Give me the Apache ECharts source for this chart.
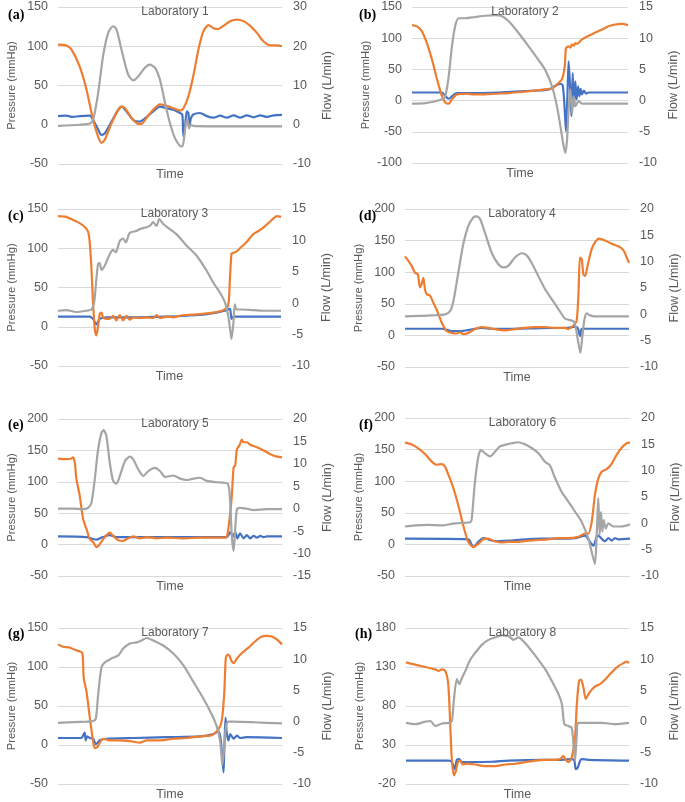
<!DOCTYPE html>
<html>
<head>
<meta charset="utf-8">
<script src="https://cdn.jsdelivr.net/npm/echarts@6/dist/echarts.min.js"></script>
<style>html,body{margin:0;padding:0;background:#fff;}#c{width:685px;height:802px;}</style>
</head>
<body>
<div id="c"></div>
<script>
// Time is normalised to 0..100 over the cardiac cycle shown in each panel.
// Orange = aortic pressure (mmHg), blue = atrial pressure (mmHg), gray = flow (L/min).
const lab1Orange = [[0,102],[3.7,101],[6,96],[9.7,74],[12.7,45],[15.7,6],[17.9,-15],[19.4,-23],[20.9,-19],[23.9,2],[26.9,19],[28.4,23],[29.9,21],[32.8,9],[35.8,1],[37.3,1],[39.6,9],[42.5,19],[45.5,26],[48.5,24],[51.5,21],[54.5,18],[56,21],[58.2,36],[60.4,62],[62.7,96],[64.9,119],[67.2,127],[69.4,123],[71.6,122],[73.9,126],[76.9,132],[79.9,134],[82.8,132],[85.8,126],[88.8,117],[91.8,106],[94.8,101],[97.8,101],[100,100]];
const lab1Blue = [[0,11],[3.7,11.5],[6.7,10],[9.7,11],[14.2,11.5],[15.7,6],[17.9,-6],[19.4,-13],[20.9,-11],[23.9,4],[26.9,19],[28.4,23],[30.6,17],[33.6,6],[36.6,4],[39.6,10],[42.5,17],[45.5,23],[48.5,21],[51.5,19],[54.5,15],[55.5,13],[56,-15],[56.7,-2],[57.5,17],[58.2,15],[58.7,-2],[59.3,8],[60.4,13],[63.4,15],[66.4,11],[69.4,9],[72.4,11.5],[75.4,9],[78.4,12],[81.3,9],[84.3,12],[87.3,9.5],[90.3,12],[93.3,10],[96.3,12],[100,12.5]];
const lab1Flow = [[0,-0.3],[9.7,0],[14.2,0.3],[15.7,1.3],[17.9,8],[20.1,17.4],[22.4,23.4],[24.6,25.1],[26.1,24.3],[28.4,19],[31.3,12.8],[33.6,11.3],[35.8,12.3],[38.8,14.5],[41,15.3],[43.3,14.5],[45.5,11.5],[47.8,5.5],[50,0.4],[52.2,-3.4],[54.5,-5.4],[55.5,-5.5],[56.3,-3.4],[57,0],[57.8,1.3],[58.5,-0.9],[59.3,0],[60.4,-0.3],[66.4,-0.4],[100,-0.4]];

const lab2Orange = [[0,121],[2.3,119],[4.6,111],[6.9,92],[9.3,65],[11.6,34],[13.9,7],[15.4,-3],[17,-5],[18.5,2],[20.8,10],[24.7,11],[29.3,10],[34,10],[38.6,11],[44.8,12],[50.9,14],[57.1,16],[61.7,18],[64.8,19],[67.1,26],[69.4,34],[70.7,55],[71.3,84],[72.5,87],[73.3,85],[74.1,90],[74.9,88],[75.6,92],[76.5,91],[78.7,98],[81.8,104],[84.9,109],[88,114],[91,119],[94.1,122],[97.2,123],[100,121]];
const lab2Blue = [[0,13],[13.9,13],[15.4,7],[17,3],[18.5,7],[20.8,12],[24.7,12],[40,13],[57.1,16],[63.3,18],[66.4,24],[68.7,27],[69.8,24],[70.7,-14],[71.3,-49],[71.9,2],[72.5,63],[73.1,28],[73.8,-25],[74.4,44],[75,-9],[75.6,31],[76.2,2],[76.9,23],[77.5,7],[78.1,19],[78.7,10],[79.6,16],[80.6,11],[81.8,13],[100,13]];
const lab2Flow = [[0,-0.5],[6.2,-0.4],[10.8,-0.1],[13.9,0.2],[15.4,0.7],[17,3.9],[18.5,8.7],[20.1,12.1],[21.6,13.2],[24.7,13.2],[29.3,13.4],[34,13.6],[38.6,13.7],[41.7,13.5],[44.8,12.7],[49.4,10.8],[54,8.7],[58.6,6.5],[61.7,4.9],[64.8,2.3],[67.1,-0.9],[68.7,-4.1],[70.2,-7.3],[71,-8.4],[71.8,-6.2],[72.5,-1.4],[73.3,1.8],[74.1,-2],[74.8,0.7],[75.6,-0.9],[77.2,-0.1],[78.7,-0.5],[100,-0.5]];

const lab3Orange = [[0,141],[3.7,140],[6.7,136],[9.7,132],[12,127],[13.5,121],[14.2,108],[15,74],[15.7,31],[16.5,-3],[17.2,-11],[18,1],[18.7,16],[19.5,18],[20.2,12],[21.7,10],[23.2,10],[24.7,14],[26.2,8],[27.7,15],[29.2,8],[30.7,14],[32.2,9],[33.7,12],[36.7,11],[39.7,12],[42.7,11],[44.2,15],[45.7,11],[48.7,13],[51.6,12],[54.6,14],[57.6,15],[63.6,16],[69.6,18],[74.1,21],[76.3,27],[77.1,61],[77.8,93],[78.6,94],[80.1,96],[81.6,100],[84.6,108],[87.6,118],[90.6,123],[93.6,130],[96.6,138],[98.1,141],[100,140]];
const lab3Blue = [[0,13],[14.2,13],[15.7,10],[17.2,3],[18.7,10],[21.7,12],[33.7,12],[48.7,13],[63.6,15],[71.1,18],[75.6,21],[77.1,23],[77.8,10],[78.6,13],[100,13]];
const lab3Flow = [[0,-1.2],[3.7,-1.1],[8.2,-1.4],[12.7,-1.2],[15,-1],[16.2,0.1],[17.2,3.8],[18,6.3],[18.7,6.4],[19.5,5.3],[21,6],[23.2,7.8],[24.7,8.5],[25.9,8.1],[27.7,9.9],[29.2,10.3],[30.4,9.7],[32.2,11.2],[35.2,11.5],[36.7,11.8],[39.7,12.1],[41.2,12.3],[42.7,12.9],[44.2,12.3],[45.4,13.4],[47.2,12.6],[50.1,11.8],[53.1,11],[57.6,9.2],[62.1,7.6],[66.6,5.2],[69.6,3.3],[72.6,1.7],[74.9,0.1],[76.3,-2],[77.4,-4.7],[77.8,-5.7],[78.6,-3.4],[79.3,-0.2],[80.1,-1],[81.6,-1],[87.6,-1.1],[93.6,-1.2],[100,-1.2]];

const lab4Orange = [[0,125],[1.5,118],[3,110],[4.5,99],[5.7,97],[6.7,76],[7.4,81],[8.2,91],[8.9,73],[9.7,65],[11.2,63],[12.6,52],[14.1,41],[16.4,20],[18.6,7],[20.8,4],[23.1,3],[24.6,5],[26,2],[28.3,4],[31.3,10],[34.2,13],[37.2,12],[40.2,10],[44.6,8],[49.1,10],[53.6,12],[58,13],[62.5,13],[67,12],[71.4,12],[72.9,10],[75.3,16],[76.6,23],[77.4,62],[78.1,123],[78.9,121],[79.6,97],[80.4,94],[81.5,110],[83.3,136],[84.8,147],[86.6,153],[89.3,150],[92.3,145],[95.2,141],[97.5,135],[99,123],[100,115]];
const lab4Blue = [[0,10.5],[16.4,10.5],[20.8,7],[25.3,7],[31.3,10.5],[34.2,12],[37.2,10.5],[46.1,10.5],[61,11.6],[72.9,12],[75.9,13.7],[77.1,12],[77.7,4],[78.3,-1],[78.9,10.5],[100,10.5]];
const lab4Flow = [[0,-0.4],[6,-0.3],[11.9,-0.2],[17.9,0],[20.1,0.6],[21.6,2.5],[23.8,7.9],[26,13.3],[28.3,16.8],[30.5,18.4],[32,18.6],[33.5,18.1],[35.7,15.5],[38.7,11.7],[41.7,9.5],[43.9,8.9],[46.1,9.2],[49.1,10.8],[52.1,11.6],[54.3,11.2],[56.5,9.8],[59.5,7.3],[62.5,4.8],[65.5,2.9],[68.5,1],[71.4,-0.8],[73.7,-1.1],[75.1,-1.3],[75.9,-1.9],[77.4,-5.4],[78.3,-7.3],[79.2,-4.1],[80.1,-1],[81.1,0.2],[82.6,-0.2],[84.8,-0.4],[100,-0.4]];

const lab5Orange = [[0,137],[3.7,136],[6,137],[6.7,139],[7.5,131],[8.2,105],[9.7,78],[11.2,41],[12.7,25],[14.2,9],[15.7,4],[17.2,-4],[18.7,1],[20.9,12],[23.1,19],[24.6,14],[26.9,7],[29.1,6],[31.3,10],[33.6,13],[36.6,10],[39.6,12],[44,10],[48.5,11],[56,10],[63.4,11],[69.4,11],[74.6,11],[75.4,12],[76.6,41],[77.6,78],[78.4,123],[79.1,126],[79.9,152],[81,158],[82.1,167],[82.8,163],[84.3,163],[85.8,159],[88.8,155],[91.8,150],[94.8,144],[97.8,140],[100,139]];
const lab5Blue = [[0,13],[12.7,12],[15.7,9],[17.2,8],[20.1,12],[23.1,15],[26.1,12],[33.6,12],[48.5,12],[75.4,12],[76.9,20],[78.1,13],[79.1,20],[80.1,10],[81.3,18],[82.8,10],[84.3,15],[85.8,10],[87.3,14],[88.8,11],[90.3,14],[91.8,12],[93.3,13],[100,13]];
const lab5Flow = [[0,0],[6.7,0],[11.2,-0.1],[13.4,0.2],[14.9,1.3],[16.4,6.5],[17.9,13.2],[19.4,16.9],[20.4,17.5],[21.6,16.2],[23.1,10.3],[24.6,6.2],[26.1,5.6],[27.6,7.3],[29.9,10.6],[32.1,11.6],[33.6,11],[35.8,8.8],[38.1,7.3],[40.3,8.4],[43.3,9.1],[45.5,8.4],[47.8,7.1],[51.5,7.4],[54.5,6.7],[57.5,6.4],[60.4,6.7],[63.4,6.9],[66.4,6.2],[70.9,5.9],[73.9,5.8],[75.7,5.6],[76.6,3.6],[77.6,-6.1],[78.4,-9.4],[79.1,-4.6],[79.9,-0.1],[81.3,0.2],[84.3,0],[87.3,-0.3],[93.3,-0.1],[100,-0.1]];

const lab6Orange = [[0,161],[3,158],[5.9,152],[8.9,143],[11.9,131],[14.1,126],[16.3,127],[17.8,123],[19.3,110],[21.5,89],[23.7,62],[25.9,30],[28.1,4],[30.4,-4],[32.6,1],[34.8,8],[37,9],[40,5],[43,3],[45.9,4],[50.4,4],[54.8,6],[59.3,7],[63.7,8],[68.1,10],[72.6,10],[77,12],[80,17],[81.5,17],[83,36],[84.4,78],[85.9,104],[87.4,115],[89.6,119],[91.9,128],[94.1,142],[96.3,153],[98.5,160],[100,161]];
const lab6Blue = [[0,9],[28.1,8],[29.6,-0.5],[30.4,-4],[32.6,4],[34.8,10],[37,8],[40,5],[45.9,6],[53.3,8],[60.7,9],[68.1,9],[75.6,10],[80,14],[82.2,4],[83.7,-2],[85.2,12],[85.9,14],[87.4,9],[88.9,5],[90.4,10],[91.9,6],[93.3,10],[94.8,8],[100,9]];
const lab6Flow = [[0,-0.6],[4.4,-0.4],[10.4,-0.3],[16.3,-0.4],[22.2,0],[26.7,0.1],[28.9,0.2],[29.6,0.6],[31.1,7.9],[32.6,12.7],[33.8,13.9],[35.6,13.3],[37.8,12.7],[40,13.6],[42.2,14.6],[44.4,14.9],[47.4,15.2],[50.4,15.4],[53.3,15],[56.3,14.3],[59.3,13.3],[62.2,11.7],[64.4,11],[66.7,8.6],[69.6,6],[72.6,4.1],[75.6,2.2],[78.5,0.3],[81.5,-2.9],[83.3,-6],[84.4,-7.7],[85.2,-2.2],[85.9,4.8],[86.5,-2.2],[87.1,2.2],[87.7,-1.6],[88.3,0.6],[89.2,-1],[90.4,0],[92.6,-0.6],[96.3,-0.6],[100,-0.2]];

const lab7Orange = [[0,129],[2.2,126],[5.2,125],[7.5,122],[9.7,120],[10.9,118],[11.5,86],[12.7,69],[14.2,35],[15.4,10],[16.4,-4],[17.5,-3],[18.7,3],[20.1,8],[23.1,6],[27.6,6],[32.1,5],[36.6,3],[39.6,6],[45.5,6],[51.5,8],[57.5,9],[63.4,11],[67.9,12],[69.4,14],[71.6,20],[73.1,31],[74.2,65],[74.9,111],[75.7,116],[76.6,114],[77.6,107],[78.4,105],[79.9,111],[82.1,118],[85.1,125],[88.1,133],[91,139],[93.3,140],[95.5,139],[97.8,135],[100,129]];
const lab7Blue = [[0,9],[10.4,9],[11.2,12],[11.9,16],[12.4,6],[13,11],[14.2,9],[15.7,8],[16.9,1],[18.7,6],[21.6,8],[33.6,9],[48.5,10],[63.4,11],[69.4,14],[71.6,18],[72.7,6],[73.4,-20],[73.9,-35],[74.3,1],[74.8,35],[75.4,14],[76.1,6],[76.9,14],[78.4,8],[79.9,12],[81.3,9],[84.3,10],[100,9]];
const lab7Flow = [[0,-0.2],[12.7,0],[15.7,0.1],[16.9,0.5],[17.9,4.2],[19.4,8.7],[20.9,9.5],[23.9,10.1],[26.9,10.6],[29.1,11.7],[32.1,12.5],[35.1,12.7],[37.3,13],[39.6,13.4],[42.5,13],[47,12.2],[51.5,10.9],[56,9],[60.4,6.4],[64.9,3.7],[68.7,1.1],[70.9,-0.8],[72.4,-3.2],[73.4,-6.9],[74.2,-4.2],[75.1,-0.5],[76.1,0],[78.4,0],[87.3,-0.1],[100,-0.3]];

const lab8Orange = [[0,136],[2.7,134],[7.2,131],[10.1,129],[13.1,127],[14.6,125],[16.1,127],[17.6,125],[18.8,112],[19.4,86],[20,44],[20.6,10],[21.5,-9],[22.4,-3],[23.3,8],[24.3,10],[25.4,5],[27.3,6],[31,5],[35.5,3],[40,3],[44.5,5],[49,6],[53.4,8],[57.9,10],[62.4,11],[66.9,11],[69.1,12],[70.6,16],[71.6,11],[72.8,8],[74.3,14],[75.8,40],[76.6,82],[77.6,112],[78.5,114],[79.6,103],[80.6,89],[81.8,95],[83.3,101],[84.8,105],[87,108],[89.3,114],[92.2,123],[95.2,131],[97.5,135],[99,137],[100,135]];
const lab8Blue = [[0,10],[19.1,10],[20.6,8],[21.8,-1],[22.8,11],[23.9,12],[25.1,8],[28.1,8],[38.5,8.5],[46,10],[60.9,11],[69.9,11],[74.3,12],[75.5,10],[76.1,-1],[77,1],[78.1,10],[78.8,12],[81.8,11],[100,10]];
const lab8Flow = [[0,-0.2],[4.2,-0.4],[8.7,0],[10.9,0.1],[13.1,-0.7],[16.1,-0.3],[19.1,-0.2],[20.6,0.1],[21.3,2.8],[22.8,6.8],[23.9,6],[25.1,7],[26.6,8.1],[28.8,9.9],[31,11],[34,12.3],[37,13.1],[40,13.5],[43,13.8],[46,13.7],[48.2,13.1],[50.4,13.5],[53.4,12.6],[56.4,11.3],[59.4,9.9],[62.4,8.4],[65.4,6.5],[68.4,4.4],[69.9,2.8],[71,-0.4],[72.8,-0.7],[74.3,-1],[75.1,-3.6],[75.8,-6.3],[76.6,-2],[77.3,-0.2],[81.8,-0.2],[87.8,-0.2],[93.7,-0.4],[100,-0.2]];

const panelLetters = ['(a)','(b)','(c)','(d)','(e)','(f)','(g)','(h)'];
const panelTitles = ['Laboratory 1','Laboratory 2','Laboratory 3','Laboratory 4','Laboratory 5','Laboratory 6','Laboratory 7','Laboratory 8'];
const pressureAxes = [[-50,150,50],[-100,150,50],[-50,150,50],[-50,200,50],[-50,200,50],[-50,200,50],[-50,150,50],[-20,180,50]];
const flowAxes = [[-10,30,10],[-10,15,5],[-10,15,5],[-10,20,5],[-15,20,5],[-10,20,5],[-10,15,5],[-10,15,5]];
const orangeData = [lab1Orange,lab2Orange,lab3Orange,lab4Orange,lab5Orange,lab6Orange,lab7Orange,lab8Orange];
const blueData = [lab1Blue,lab2Blue,lab3Blue,lab4Blue,lab5Blue,lab6Blue,lab7Blue,lab8Blue];
const flowData = [lab1Flow,lab2Flow,lab3Flow,lab4Flow,lab5Flow,lab6Flow,lab7Flow,lab8Flow];

// layout (px)
const gridBoxes = [
  {left:58, top:7, width:224, height:157},
  {left:412, top:7, width:216, height:156},
  {left:58, top:209, width:223, height:157},
  {left:405, top:209, width:224, height:158},
  {left:58, top:419, width:224, height:157},
  {left:405, top:418, width:225, height:158},
  {left:58, top:628, width:224, height:158},
  {left:406, top:628, width:223, height:157}
];
const letterPos = [[3,3],[354,3],[3,204],[354,204],[3,413],[354,413],[3,622],[350,622]];

const font = 'Liberation Sans, Arial, sans-serif';
const txt = '#595959';
const option = {animation:false, backgroundColor:'#fff', title:[], grid:[], xAxis:[], yAxis:[], series:[]};

for (let i = 0; i < 8; i++) {
  const g = gridBoxes[i];
  option.grid.push({left:g.left, top:g.top, width:g.width, height:g.height, containLabel:false});
  option.title.push({text:panelTitles[i], left:g.left + g.width/2, top:g.top - 6, textAlign:'center',
    textStyle:{fontFamily:font, fontSize:12, fontWeight:'normal', color:txt}});
  option.title.push({text:panelLetters[i], left:letterPos[i][0], top:letterPos[i][1],
    textStyle:{fontFamily:'Liberation Serif, Times New Roman, serif', fontSize:14, fontWeight:'bold', color:'#000'}});
  option.xAxis.push({type:'value', gridIndex:i, min:0, max:100, axisLine:{show:false}, axisTick:{show:false},
    axisLabel:{show:false}, splitLine:{show:false}, name:'Time', nameLocation:'middle', nameGap:4,
    nameTextStyle:{fontFamily:font, fontSize:12.5, color:txt}});
  const p = pressureAxes[i], f = flowAxes[i];
  option.yAxis.push({type:'value', gridIndex:i, min:p[0], max:p[1], interval:p[2], position:'left',
    axisLine:{show:false}, axisTick:{show:false},
    axisLabel:{fontFamily:font, fontSize:12.5, color:txt, margin:10},
    splitLine:{lineStyle:{color:'#d9d9d9', width:1}},
    name:'Pressure (mmHg)', nameLocation:'middle', nameGap:41,
    nameTextStyle:{fontFamily:font, fontSize:11.2, color:txt}});
  option.yAxis.push({type:'value', gridIndex:i, min:f[0], max:f[1], interval:f[2], position:'right',
    axisLine:{show:false}, axisTick:{show:false},
    axisLabel:{fontFamily:font, fontSize:12.5, color:txt, margin:11},
    splitLine:{show:false},
    name:'Flow (L/min)', nameLocation:'middle', nameGap:39,
    nameTextStyle:{fontFamily:font, fontSize:12.5, color:txt}});
  const common = {type:'line', showSymbol:false, smooth:0.25, xAxisIndex:i, silent:true};
  option.series.push(Object.assign({}, common, {yAxisIndex:2*i, data:blueData[i], lineStyle:{color:'#4472C4', width:2.2}, z:2}));
  option.series.push(Object.assign({}, common, {yAxisIndex:2*i, data:orangeData[i], lineStyle:{color:'#ED7D31', width:2.2}, z:3}));
  option.series.push(Object.assign({}, common, {yAxisIndex:2*i+1, data:flowData[i], lineStyle:{color:'#A5A5A5', width:2.2}, z:4}));
}

const chart = echarts.init(document.getElementById('c'), null, {renderer:'canvas'});
chart.setOption(option);
</script>
</body>
</html>
